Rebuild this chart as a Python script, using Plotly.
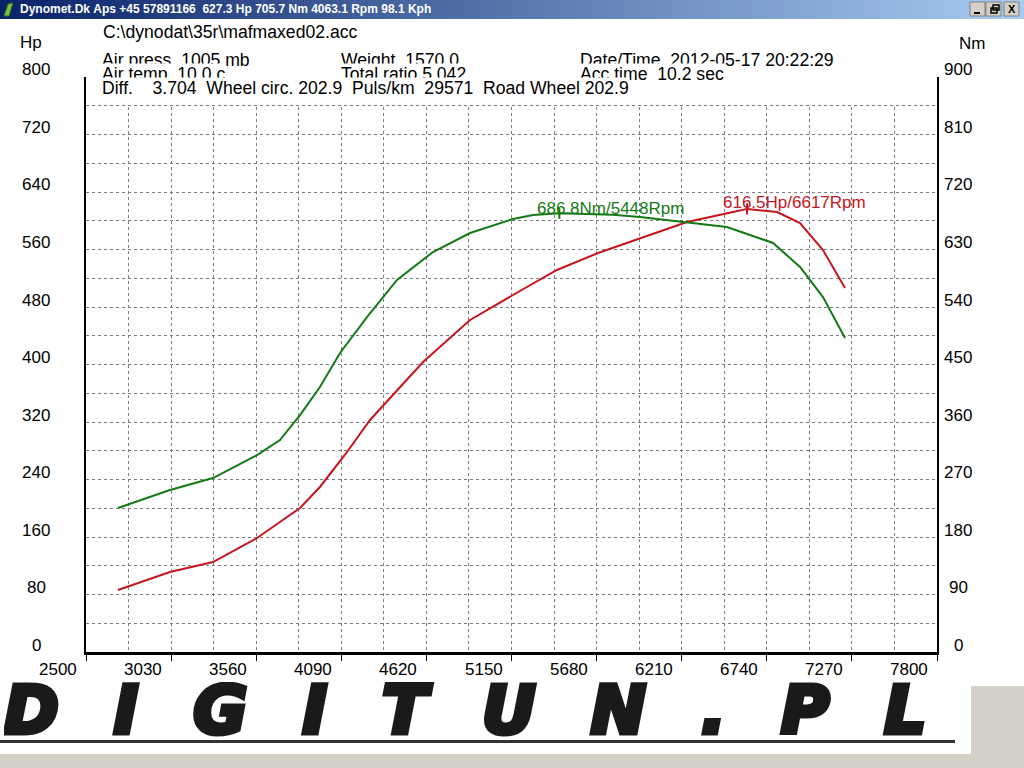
import plotly.graph_objects as go

# ---------------- data ----------------
rpm_power = [2699, 3023, 3291, 3565, 3833, 3957, 4126, 4269, 4599, 4767, 4892, 5159,
             5433, 5689, 6243, 6530, 6617, 6804, 6947, 7090, 7227]
power_hp = [86.3, 111.3, 125.2, 158.6, 200.3, 229.6, 278.3, 322.8, 403.5, 437.0, 461.9, 496.7,
            531.5, 555.1, 598.3, 612.2, 616.5, 612.2, 596.9, 559.3, 506.4]

rpm_torque = [2699, 3023, 3291, 3565, 3708, 3833, 3957, 4082, 4250, 4437, 4661, 4892,
              5159, 5284, 5448, 5782, 5950, 6249, 6492, 6779, 6947, 7090, 7227]
torque_nm = [225.4, 253.6, 272.3, 308.3, 331.8, 370.9, 414.8, 468.0, 524.3, 582.3, 626.1, 655.8,
             677.7, 684.0, 686.8, 684.5, 681.0, 672.0, 665.2, 640.2, 602.6, 555.6, 491.5]

peak_torque_rpm, peak_torque_nm = 5448, 686.8
peak_power_rpm, peak_power_hp = 6617, 616.5

x_ticks = [2500, 3030, 3560, 4090, 4620, 5150, 5680, 6210, 6740, 7270, 7800]
hp_ticks = [0, 80, 160, 240, 320, 400, 480, 560, 640, 720, 800]
nm_ticks = [0, 90, 180, 270, 360, 450, 540, 630, 720, 810, 900]
hp_grid = [40, 80, 120, 160, 200, 240, 280, 320, 360, 400, 440, 480, 520, 560, 600,
           640, 680, 720, 760]

title_text = "Dynomet.Dk Aps +45 57891166  627.3 Hp 705.7 Nm 4063.1 Rpm 98.1 Kph"
file_text = "C:\\dynodat\\35r\\mafmaxed02.acc"
info_row1 = [("Air press  1005 mb", 101), ("Weight  1570.0", 340), ("Date/Time  2012-05-17 20:22:29", 579)]
info_row2 = [("Air temp  10.0 c", 101), ("Total ratio 5.042", 340), ("Acc time  10.2 sec", 579)]
info_row3 = "Diff.    3.704  Wheel circ. 202.9  Puls/km  29571  Road Wheel 202.9"
logo_text = "DIGITUN.PL"

# ---------------- styling ----------------
W, H = 1024, 768
RED = "#c4161c"
GREEN = "#137a16"
GRID = "#7d7d7d"
FONT = "Liberation Sans"
FS = 17
HFS = 17.6


def px(x):
    return x / W


def py(y):
    return 1 - y / H


def nb(s):
    return s.replace(" ", "\u00a0")


fig = go.Figure()

fig.add_trace(go.Scatter(x=rpm_torque, y=torque_nm, yaxis="y2", mode="lines",
                         line=dict(color=GREEN, width=2), showlegend=False, hoverinfo="skip"))
fig.add_trace(go.Scatter(x=rpm_power, y=power_hp, mode="lines",
                         line=dict(color=RED, width=2), showlegend=False, hoverinfo="skip"))
fig.add_trace(go.Scatter(x=[peak_torque_rpm], y=[peak_torque_nm], yaxis="y2", mode="markers",
                         marker=dict(symbol="line-ns", size=8, line=dict(color=GREEN, width=2)),
                         showlegend=False, hoverinfo="skip"))
fig.add_trace(go.Scatter(x=[peak_power_rpm], y=[peak_power_hp], mode="markers",
                         marker=dict(symbol="line-ns", size=8, line=dict(color=RED, width=2)),
                         showlegend=False, hoverinfo="skip"))

shapes = []
# title bar gradient
c0 = (10, 36, 106)
c1 = (166, 202, 240)
N = 64
for i in range(N):
    t = i / (N - 1)
    col = "rgb(%d,%d,%d)" % tuple(round(a + (b - a) * t) for a, b in zip(c0, c1))
    shapes.append(dict(type="rect", xref="paper", yref="paper", x0=i / N, x1=(i + 1) / N + 0.002,
                       y0=py(19), y1=1, fillcolor=col, line=dict(width=0), layer="above"))
# window buttons
for bx in (970, 986, 1004):
    shapes.append(dict(type="rect", xref="paper", yref="paper", x0=px(bx), x1=px(bx + 15),
                       y0=py(16), y1=py(2), fillcolor="#d4d0c8",
                       line=dict(color="#808080", width=1), layer="above"))
# restore icon
shapes.append(dict(type="rect", xref="paper", yref="paper", x0=px(991), x1=px(997),
                   y0=py(13), y1=py(8), fillcolor="rgba(0,0,0,0)", line=dict(color="black", width=1.5), layer="above"))
shapes.append(dict(type="rect", xref="paper", yref="paper", x0=px(993), x1=px(999),
                   y0=py(10), y1=py(5), fillcolor="rgba(0,0,0,0)", line=dict(color="black", width=1.5), layer="above"))
# minimize glyph
shapes.append(dict(type="line", xref="paper", yref="paper", x0=px(974), x1=px(980),
                   y0=py(13), y1=py(13), line=dict(color="black", width=2), layer="above"))
# small app icon
shapes.append(dict(type="path", xref="paper", yref="paper",
                   path="M %f %f L %f %f L %f %f L %f %f Z" % (px(4), py(16), px(8), py(4), px(13), py(3), px(9), py(16)),
                   fillcolor="#7fbf3f", line=dict(color="#2f6f1f", width=1), layer="above"))
# hide the grid above the 760 line (header zone)
shapes.append(dict(type="rect", xref="x", yref="y", x0=2500, x1=7800, y0=761, y1=800,
                   fillcolor="white", line=dict(width=0), layer="between"))
# logo underline
shapes.append(dict(type="rect", xref="paper", yref="paper", x0=0, x1=px(955), y0=py(743), y1=py(740),
                   fillcolor="#333333", line=dict(width=0), layer="above"))
# grey window background at the bottom / right
shapes.append(dict(type="rect", xref="paper", yref="paper", x0=px(971), x1=1, y0=0, y1=py(686),
                   fillcolor="#d4d0c8", line=dict(width=0), layer="above"))
shapes.append(dict(type="rect", xref="paper", yref="paper", x0=0, x1=1, y0=0, y1=py(754),
                   fillcolor="#d4d0c8", line=dict(width=0), layer="above"))

ann = []
tfont = dict(family=FONT, size=FS, color="black")
hfont = dict(family=FONT, size=HFS, color="black")
ann.append(dict(x=px(18), y=py(9.5), xref="paper", yref="paper", text="<b>" + nb(title_text) + "</b>",
                showarrow=False, xanchor="left", yanchor="middle",
                font=dict(family=FONT, size=12, color="white")))
ann.append(dict(x=px(1011.5), y=py(9), xref="paper", yref="paper", text="<b>X</b>", showarrow=False,
                xanchor="center", yanchor="middle", font=dict(family=FONT, size=11, color="black")))
ann.append(dict(x=px(101), y=py(32), xref="paper", yref="paper", text=nb(file_text), showarrow=False,
                xanchor="left", yanchor="middle", font=hfont))
ann.append(dict(x=px(31), y=py(42), xref="paper", yref="paper", text="Hp", showarrow=False,
                xanchor="center", yanchor="middle", font=tfont))
ann.append(dict(x=px(972), y=py(43), xref="paper", yref="paper", text="Nm", showarrow=False,
                xanchor="center", yanchor="middle", font=tfont))
for txt, xx in info_row1:
    ann.append(dict(x=px(xx), y=py(60), xref="paper", yref="paper", text=nb(txt), showarrow=False,
                    xanchor="left", yanchor="middle", font=hfont, bgcolor="white", borderpad=0))
for txt, xx in info_row2:
    ann.append(dict(x=px(xx), y=py(74), xref="paper", yref="paper", text=nb(txt), showarrow=False,
                    xanchor="left", yanchor="middle", font=hfont, bgcolor="white", borderpad=0))
ann.append(dict(x=px(101), y=py(88), xref="paper", yref="paper", text=nb(info_row3), showarrow=False,
                xanchor="left", yanchor="middle", font=hfont, bgcolor="white", borderpad=0))

for v in hp_ticks:
    ann.append(dict(x=px(36), xref="paper", y=v, yref="y", text=str(v), showarrow=False,
                    xanchor="center", yanchor="middle", yshift=7, font=tfont))
for v in nm_ticks:
    ann.append(dict(x=px(958), xref="paper", y=v, yref="y2", text=str(v), showarrow=False,
                    xanchor="center", yanchor="middle", yshift=7, font=tfont))
for v in x_ticks:
    ann.append(dict(x=v, xref="x", y=py(669), yref="paper", text=str(v), showarrow=False,
                    xanchor="center", yanchor="middle", xshift=-28, font=tfont))

ann.append(dict(x=peak_torque_rpm, xref="x", y=peak_torque_nm, yref="y2",
                text="%.1fNm/%dRpm" % (peak_torque_nm, peak_torque_rpm), showarrow=False,
                xanchor="left", yanchor="middle", xshift=-24, yshift=5,
                font=dict(family=FONT, size=FS, color=GREEN)))
ann.append(dict(x=peak_power_rpm, xref="x", y=peak_power_hp, yref="y",
                text="%.1fHp/%dRpm" % (peak_power_hp, peak_power_rpm), showarrow=False,
                xanchor="left", yanchor="middle", xshift=-26, yshift=6,
                font=dict(family=FONT, size=FS, color=RED)))

ann.append(dict(x=px(2), y=py(710), xref="paper", yref="paper",
                text='<span style="letter-spacing:55px;stroke:#1a1a1a;stroke-width:5px">'
                     + logo_text + "</span>",
                showarrow=False, xanchor="left", yanchor="middle", height=56,
                font=dict(family="DejaVu Sans", size=66, color="#1a1a1a", weight=900, style="italic")))

fig.update_layout(
    width=W, height=H,
    margin=dict(l=0, r=0, t=0, b=0),
    paper_bgcolor="white", plot_bgcolor="white",
    showlegend=False,
    font=dict(family=FONT, size=FS, color="black"),
    xaxis=dict(domain=[px(86), px(937)], range=[2500, 7800], tickvals=x_ticks,
               showticklabels=False, ticks="outside", ticklen=6, tickcolor="black", tickwidth=1,
               showgrid=True, gridcolor=GRID, griddash="dot", gridwidth=1,
               minor=dict(dtick=265, tick0=2500, showgrid=True, gridcolor=GRID, griddash="dot",
                          gridwidth=1, ticks=""),
               showline=True, linecolor="black", linewidth=3, zeroline=False, fixedrange=True),
    yaxis=dict(domain=[py(652), py(77)], range=[0, 800], tickvals=hp_grid,
               showticklabels=False, ticks="", showgrid=True, gridcolor=GRID, griddash="dot",
               gridwidth=1, showline=True, linecolor="black", linewidth=2, zeroline=False,
               fixedrange=True),
    yaxis2=dict(overlaying="y", side="right", range=[0, 900], showgrid=False,
                showticklabels=False, ticks="", showline=True, linecolor="black", linewidth=2,
                zeroline=False, fixedrange=True),
    shapes=shapes,
    annotations=ann,
)

fig.write_html("out.html", config=dict(displayModeBar=False),
               post_script="document.body.style.margin='0';document.body.style.overflow='hidden';")
